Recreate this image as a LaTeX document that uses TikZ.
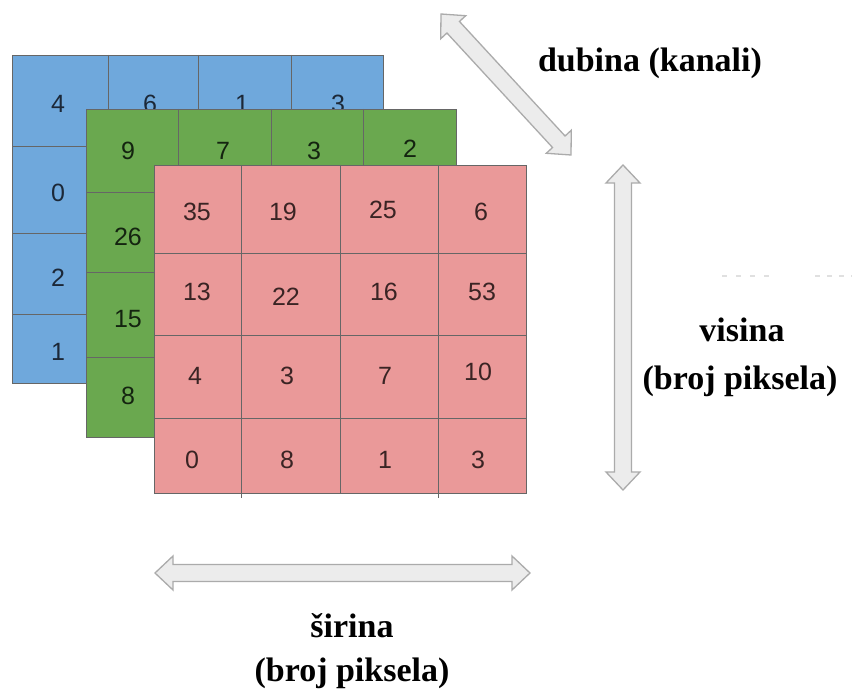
\documentclass[tikz,border=0pt]{standalone}
\usepackage{fontspec}
\setmainfont{Liberation Serif}
\newfontfamily\cellfont{Liberation Sans}
\usetikzlibrary{calc}
\definecolor{lblue}{HTML}{6FA8DC}
\definecolor{lgreen}{HTML}{6AA84F}
\definecolor{lred}{HTML}{EA9999}
\definecolor{gridc}{HTML}{666666}
\definecolor{arrfill}{HTML}{ECECEC}
\definecolor{arrline}{HTML}{ABABAB}
\definecolor{tblue}{HTML}{1C2838}
\definecolor{tgreen}{HTML}{142410}
\definecolor{tred}{HTML}{3A2424}
\tikzset{
  gridline/.style={draw=gridc, line width=0.9pt},
  cellnum/.style={font=\cellfont\fontsize{25}{30}\selectfont, inner sep=0pt},
  bnum/.style={cellnum, text=tblue},
  gnum/.style={cellnum, text=tgreen},
  rnum/.style={cellnum, text=tred},
  bigtxt/.style={font=\bfseries\fontsize{34}{40}\selectfont, inner sep=0pt, align=center},
  arrowstyle/.style={draw=arrline, fill=arrfill, line width=1.3pt, line join=miter},
}
\newcommand{\dblarr}[2]{%
  \coordinate (p1) at ($(#1)!18pt!(#2)$);
  \coordinate (p2) at ($(#2)!18pt!(#1)$);
  \draw[arrowstyle] (#1) -- ($(p1)!17pt!90:(#2)$) -- ($(p1)!8.5pt!90:(#2)$)
    -- ($(p2)!8.5pt!-90:(#1)$) -- ($(p2)!17pt!-90:(#1)$) -- (#2)
    -- ($(p2)!17pt!90:(#1)$) -- ($(p2)!8.5pt!90:(#1)$)
    -- ($(p1)!8.5pt!-90:(#2)$) -- ($(p1)!17pt!-90:(#2)$) -- cycle;
}
\begin{document}
\begin{tikzpicture}[x=1pt,y=-1pt]
\useasboundingbox[fill=white] (0,0) rectangle (852,692);
% ---- blue layer
\fill[lblue] (12,55) rectangle (383,383);
\draw[gridline] (12,55) rectangle (383,383);
\foreach \x in {108,198,291} \draw[gridline] (\x,55) -- (\x,383);
\foreach \y in {146,233,314} \draw[gridline] (12,\y) -- (383,\y);
\node[bnum] (b11) at (58,104) {4};
\node[bnum] (b12) at (150,104) {6};
\node[bnum] (b13) at (242,104) {1};
\node[bnum] (b14) at (338,104) {3};
\node[bnum] (b21) at (58,193) {0};
\node[bnum] (b31) at (58,278) {2};
\node[bnum] (b41) at (58,352) {1};
% ---- green layer
\fill[lgreen] (86,109) rectangle (456,437);
\draw[gridline] (86,109) rectangle (456,437);
\foreach \x in {178,271,363} \draw[gridline] (\x,109) -- (\x,437);
\foreach \y in {192,272,357} \draw[gridline] (86,\y) -- (456,\y);
\node[gnum] (g11) at (128,151) {9};
\node[gnum] (g12) at (223,151) {7};
\node[gnum] (g13) at (314,151) {3};
\node[gnum] (g14) at (410,149) {2};
\node[gnum] (g21) at (128,237) {26};
\node[gnum] (g31) at (128,319) {15};
\node[gnum] (g41) at (128,396) {8};
% ---- red layer
\fill[lred] (154,165) rectangle (526,493);
\draw[gridline] (154,165) rectangle (526,493);
\draw[gridline] (241,165) -- (241,498);
\draw[gridline] (340,165) -- (340,493);
\draw[gridline] (438,165) -- (438,498);
\foreach \y in {253,335,418} \draw[gridline] (154,\y) -- (526,\y);
\node[rnum] (r11) at (197,212) {35};
\node[rnum] (r12) at (283,212) {19};
\node[rnum] (r13) at (383,210) {25};
\node[rnum] (r14) at (481,212) {6};
\node[rnum] (r21) at (197,292) {13};
\node[rnum] (r22) at (286,297) {22};
\node[rnum] (r23) at (384,292) {16};
\node[rnum] (r24) at (482,292) {53};
\node[rnum] (r31) at (195,376) {4};
\node[rnum] (r32) at (287,376) {3};
\node[rnum] (r33) at (385,376) {7};
\node[rnum] (r34) at (478,372) {10};
\node[rnum] (r41) at (192,460) {0};
\node[rnum] (r42) at (287,460) {8};
\node[rnum] (r43) at (385,460) {1};
\node[rnum] (r44) at (478,460) {3};
% ---- arrows
\coordinate (dA) at (441,14);
\coordinate (dB) at (571,155);
\dblarr{dA}{dB}
\coordinate (vA) at (623,165);
\coordinate (vB) at (623,490);
\dblarr{vA}{vB}
\coordinate (hA) at (155,573);
\coordinate (hB) at (530,573);
\dblarr{hA}{hB}
% ---- faint dashes
\draw[black!12, line width=1.2pt, dash pattern=on 5pt off 9pt] (722,276) -- (775,276);
\draw[black!12, line width=1.2pt, dash pattern=on 5pt off 7pt] (815,276) -- (852,276);
% ---- labels
\node[bigtxt] (tdub) at (650,63) {dubina (kanali)};
\node[bigtxt] (tvis) at (742,330) {visina};
\node[bigtxt] (tvisb) at (740,381) {(broj piksela)};
\node[bigtxt] (tsir) at (352,626) {širina};
\node[bigtxt] (tsirb) at (352,673) {(broj piksela)};
\end{tikzpicture}
\end{document}
